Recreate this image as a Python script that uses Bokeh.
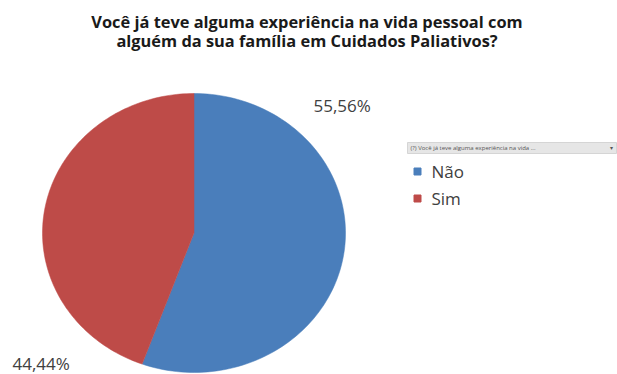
import math
import numpy as np
from bokeh.plotting import figure
from bokeh.models import Range1d
from bokeh.core.properties import value
from bokeh.embed import file_html
from bokeh.resources import INLINE

categories = ["Não", "Sim"]
percents = [55.56, 44.44]
labels = ["55,56%", "44,44%"]
colors = ["#4A7EBB", "#BE4B48"]
title_lines = ["Você já teve alguma experiência na vida pessoal com",
               "alguém da sua família em Cuidados Paliativos?"]
filter_label = "(?) Você já teve alguma experiência na vida ..."

W, H = 617, 374
p = figure(width=W, height=H, output_backend="svg", toolbar_location=None,
           x_range=Range1d(0, W), y_range=Range1d(0, H), min_border=0)
p.axis.visible = False
p.grid.visible = False
p.outline_line_color = None
p.background_fill_color = "white"
p.border_fill_color = "white"

def Y(py):
    return H - py

# slightly elliptical pie (the original is stretched horizontally)
cx, cy, rx, ry = 193.5, Y(232.5), 151.5, 139.5
total = sum(percents)
xs, ys = [], []
start = 0.0
for v in percents:
    a = 2 * math.pi * v / total
    t = np.linspace(start, start + a, 120)
    xs.append([cx] + list(cx + rx * np.sin(t)) + [cx])
    ys.append([cy] + list(cy + ry * np.cos(t)) + [cy])
    start += a

p.patches(xs=xs, ys=ys, fill_color=colors, line_color=colors, line_width=0.5)

font = value("Open Sans")
# data labels
p.text(x=[313, 12], y=[Y(105), Y(363)], text=labels, text_font=font,
       text_font_size="17px", text_color="#404040",
       text_align="left", text_baseline="middle")

# title
p.text(x=[306.5, 306.5], y=[Y(21), Y(40)], text=title_lines, text_font=font,
       text_font_size="16.4px", text_font_style="bold", text_color="#1a1a1a",
       text_align="center", text_baseline="middle")

# filter dropdown bar
p.quad(left=[407], right=[616], bottom=[Y(153)], top=[Y(142)],
       fill_color="#e6e6e6", line_color="#c8c8c8", line_width=0.7)
p.text(x=[410], y=[Y(147.5)], text=[filter_label], text_font=font,
       text_font_size="6px", text_color="#555555",
       text_align="left", text_baseline="middle")
p.text(x=[611], y=[Y(147.5)], text=["▾"], text_font=font,
       text_font_size="6px", text_color="#555555",
       text_align="center", text_baseline="middle")

# legend
ly = [Y(171), Y(198)]
p.scatter(x=[417, 417], y=ly, marker="square", size=7,
          fill_color=colors, line_color=colors)
p.text(x=[431, 431], y=ly, text=categories, text_font=font,
       text_font_size="17px", text_color="#404040",
       text_align="left", text_baseline="middle")

open("out.html", "w").write(file_html(p, INLINE))
